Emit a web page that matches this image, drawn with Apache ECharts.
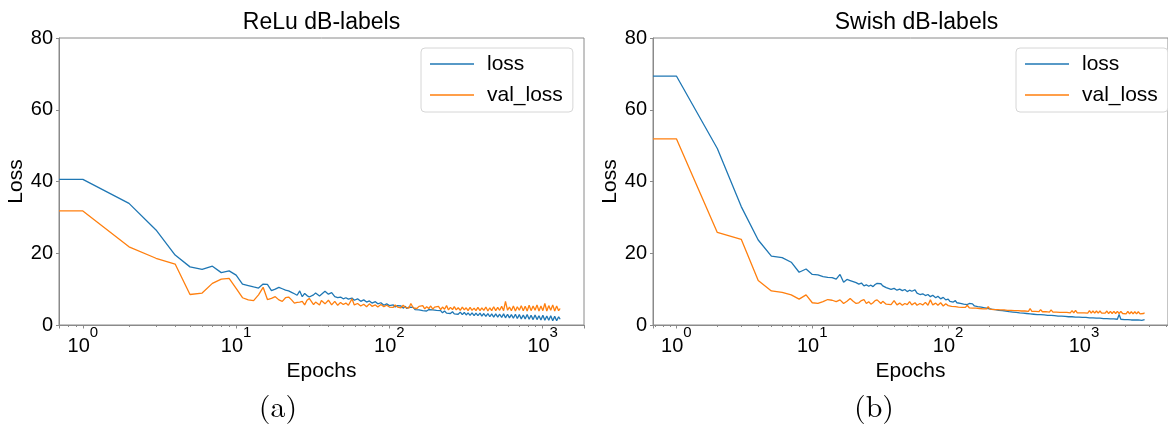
<!DOCTYPE html>
<html><head><meta charset="utf-8">
<script src="https://cdn.jsdelivr.net/npm/echarts@6/dist/echarts.min.js"></script>
<style>html,body{margin:0;padding:0;background:#fff;}#c{width:1168px;height:427px;}</style>
</head><body><div id="c"></div>
<script>
// ---------------- data ----------------
const epochsRelu = [
  1,2,3,4,5,6,7,8,9,10, 11,12,13,14,15,16,17,18,19,20, 21,22,23,24,25,26,27,28,29,30,
  32,33,35,36,38, 40,42,44,46,48, 50,52,54,57,59, 62,65,68,71,74, 77,81,84,88,92, 96,100,
  103,106,109,113,116,119,123,127,130,134,
  138,143,147,151,156,160,165,170,175,181,
  186,192,197,203,209,216,222,229,236,243,
  250,258,265,273,281,290,299,308,317,326,
  336,346,357,367,378,390,401,413,426,439,
  452,465,479,494,509,524,540,556,572,590,
  607,625,644,664,683,704,725,747,769,792,
  816,840,866,892,918,946,974,1003,1033,1064,
  1096,1129,1163,1198,1234,1271,1300
];
const lossRelu = [
  40.6,33.9,26.5,19.5,16.2,15.5,16.4,14.6,15.1,13.9,
  11.4,11.0,10.6,10.3,11.4,11.3,9.6,10.0,10.5,10.1,
  9.7,9.5,9.1,8.7,8.3,9.5,7.9,8.8,8.2,7.8,
  8.4,8.9,8.1,8.3,9.4, 8.6,9.0,7.9,7.6,7.8, 7.3,7.6,7.2,7.5,6.9, 7.3,6.6,7.0,6.4,6.7, 6.1,6.5,5.9,6.2,5.5, 5.9,5.4,
  5.1,5.6,5.0,5.4,4.9,5.3,4.7,5.2,4.6,5.0,
  4.5,4.9,4.3,4.7,4.2,4.6,4.0,4.5,3.9,4.3,
  3.8,4.2,3.7,4.1,3.6,4.0,3.4,3.9,3.3,3.8,
  3.2,3.7,3.1,3.6,3.0,3.6,2.9,3.5,2.8,3.4,
  2.7,3.4,2.6,3.3,2.6,3.3,2.5,3.2,2.4,3.2,
  2.3,3.1,2.2,3.1,2.2,3.0,2.1,3.1,2.0,3.0,
  2.0,2.9,1.9,3.0,1.8,2.9,1.7,2.8,1.7,2.9,
  1.6,2.7,1.5,2.8,1.5,2.6,1.4,2.7,1.3,2.5,
  1.3,2.6,1.2,2.4,1.2,2.3,1.6
];
const valLossRelu = [
  31.8,21.8,18.6,17.0,8.5,8.9,11.6,12.8,13.0,10.2,
  7.6,7.0,6.8,8.4,10.5,7.1,7.4,7.9,7.0,6.6,
  7.6,7.8,7.0,6.1,6.3,6.4,6.6,5.6,6.9,7.4,
  5.7,6.4,5.6,6.8,5.9, 6.9,5.6,6.6,5.5,6.3, 5.7,6.1,5.5,7.3,5.6, 6.0,5.3,5.8,5.1,5.9, 5.2,5.6,5.0,5.7,5.1, 5.5,5.0,
  5.4,4.9,5.6,5.0,5.3,4.8,5.5,4.9,5.2,4.7,
  6.0,4.8,5.3,4.6,5.2,4.7,5.4,4.5,5.1,4.6,
  5.3,4.4,5.0,4.5,5.2,4.3,5.0,4.4,5.4,4.2,
  4.9,4.3,5.1,4.2,4.8,4.1,5.0,4.2,4.8,4.0,
  4.9,4.1,4.7,4.0,4.9,4.0,4.8,4.1,5.0,3.9,
  4.8,4.0,5.1,4.0,4.9,4.1,5.2,4.0,6.6,4.1,
  5.0,4.0,5.3,3.9,5.1,4.1,5.4,4.0,5.2,3.9,
  5.5,4.0,5.3,4.1,5.6,3.9,5.3,4.0,6.0,3.9,
  5.4,4.1,5.6,3.9,5.3,4.0,4.6
];
const epochsSwish = [
  1,2,3,4,5,6,7,8,9,10, 11,12,13,14,15,16,17,18,19,20, 21,22,23,24,25,26,27,28,29,30,
  32,33,35,36,38, 40,42,44,46,48, 50,52,54,57,59, 62,65,68,71,74, 77,81,84,88,92, 96,100,
  103,106,109,113,116,119,123,127,130,134,
  138,143,147,151,156,160,165,170,175,181,
  186,192,197,203,209,216,222,229,236,243,
  250,258,265,273,281,290,299,308,317,326,
  336,346,357,367,378,390,401,413,426,439,
  452,465,479,494,509,524,540,556,572,590,
  607,625,644,664,683,704,725,747,769,792,
  816,840,866,892,918,946,974,1003,1033,1064,
  1096,1129,1163,1198,1234,1271,
  1309,1348,1389,1430,1473,1517,1563,1610,1658,1708,
  1759,1812,1866,1922,1980,2039,2100,2163,2228,2295,
  2364,2435,2508,2583,2661,2740,2790
];
const lossSwish = [
  69.4,49.2,33.0,23.7,19.2,18.8,17.5,14.7,15.6,14.1,
  14.0,13.5,13.3,13.2,12.8,14.1,11.9,12.7,12.4,12.1,
  11.8,11.4,11.7,10.9,11.2,10.8,11.1,10.7,11.3,11.6,
  11.5,10.9,10.4,10.8,9.9, 10.2,9.7,10.0,9.6,9.9, 9.3,9.7,9.4,9.8,8.9, 8.5,8.7,8.2,8.5,7.9, 8.3,7.6,8.0,7.3,7.7, 7.0,7.2,
  6.6,7.1,6.4,6.8,6.2,6.6,6.0,6.4,5.8,6.2,
  5.7,6.0,5.5,5.9,5.3,5.7,5.1,5.5,5.0,5.3,
  4.8,5.1,4.6,4.9,4.4,4.8,4.3,4.6,4.1,4.5,
  4.0,4.4,3.9,4.2,3.7,4.1,3.6,3.9,3.5,3.8,
  3.4,3.7,3.3,3.6,3.2,3.5,3.1,3.4,3.0,3.3,
  2.9,3.2,2.9,3.2,2.8,3.1,2.7,3.0,2.7,3.0,
  2.6,2.9,2.5,2.8,2.5,2.8,2.4,2.7,2.3,2.7,
  2.3,2.6,2.2,2.6,2.2,2.5,2.1,2.5,2.1,2.4,
  2.0,2.4,2.0,2.3,1.9,2.3,
  1.9,2.2,1.8,2.2,1.8,2.1,1.7,2.1,1.7,2.0,
  1.6,2.9,1.6,2.0,1.5,1.9,1.5,1.9,1.4,1.9,
  1.4,1.8,1.4,1.8,1.3,1.8,1.5
];
const valLossSwish = [
  51.9,25.8,23.9,12.4,9.5,9.1,8.4,7.2,8.4,6.2,
  6.0,6.5,7.1,6.9,6.5,7.0,6.0,6.6,7.4,6.6,
  6.0,6.2,6.8,7.1,6.0,6.5,5.8,6.2,6.8,7.0,
  6.0,6.6,5.8,6.3,5.7, 6.8,5.6,6.1,5.5,6.0, 5.7,6.5,5.6,6.2,5.5, 6.0,5.6,6.3,5.5,7.0, 5.6,6.1,5.5,6.2,5.3, 5.9,5.4,
  5.8,5.2,5.7,5.1,5.6,5.0,5.5,4.9,5.4,4.9,
  5.5,4.8,5.3,4.7,5.2,4.7,5.2,4.6,5.1,4.5,
  5.0,4.5,5.1,4.4,4.9,4.3,4.8,4.3,4.8,4.2,
  4.7,4.2,4.7,4.1,4.6,4.1,4.6,4.0,4.5,4.0,
  4.5,3.9,4.4,3.9,4.4,3.8,4.6,3.8,4.3,3.8,
  4.3,3.7,4.3,3.7,4.2,3.7,4.2,3.6,4.2,3.6,
  4.1,3.6,4.1,3.5,4.0,3.5,4.0,3.5,4.0,3.4,
  4.0,3.4,4.1,3.4,3.9,3.4,3.9,3.4,3.9,3.3,
  4.0,3.3,3.9,3.3,3.9,3.3,
  3.9,3.3,3.8,3.3,3.9,3.2,3.8,3.2,3.8,3.2,
  3.8,3.2,3.8,3.2,3.7,3.1,3.8,3.1,3.7,3.1,
  3.7,3.1,3.7,3.1,3.6,3.2,3.4
];
const panelTitles = ['ReLu dB-labels', 'Swish dB-labels'];
const panelCaptions = ['(a)', '(b)'];
const seriesNames = ['loss', 'val_loss'];
const xAxisName = 'Epochs';
const yAxisName = 'Loss';
const yMin = 0, yMax = 80, yStep = 20;

// ---------------- styling / layout ----------------
const SANS = '"Liberation Sans", Arial, sans-serif';
const SERIF = '"Latin Modern Roman", "Liberation Serif", "DejaVu Serif", serif';
const COLORS = ['#1f77b4', '#ff7f0e'];
const FRAME = '#8a8a8a';
const grids = [
  {left: 59, top: 38, width: 525, height: 287},
  {left: 653, top: 38, width: 527, height: 287}
];
const captionX = [278, 874];
const legendLeft = [421, 1016];
const panels = [
  {epochs: epochsRelu, values: [lossRelu, valLossRelu]},
  {epochs: epochsSwish, values: [lossSwish, valLossSwish]}
];

// matplotlib-like 5% margins in log space; epoch 0 is clipped to the left edge
function logRange(ep) {
  const lo = Math.log10(ep[0]), hi = Math.log10(ep[ep.length - 1]);
  const m = 0.05 * (hi - lo);
  return [Math.pow(10, lo - m), Math.pow(10, hi + m)];
}

const option = {
  animation: false,
  backgroundColor: '#fff',
  title: [], grid: [], xAxis: [], yAxis: [], legend: [], series: []
};

panels.forEach((p, k) => {
  const g = grids[k];
  const [xmin, xmax] = logRange(p.epochs);
  option.grid.push({left: g.left, top: g.top, width: g.width, height: g.height,
    show: true, borderColor: FRAME, borderWidth: 1, backgroundColor: 'transparent', containLabel: false});
  option.title.push({text: panelTitles[k], left: g.left + g.width / 2, top: 11, textAlign: 'center', padding: 0,
    textStyle: {fontFamily: SANS, fontSize: 23, fontWeight: 'normal', color: '#000'}});
  option.title.push({text: panelCaptions[k], left: captionX[k], top: 393, textAlign: 'center', padding: 0,
    textStyle: {fontFamily: SERIF, fontSize: 30, fontWeight: 'normal', color: '#000'}});
  option.xAxis.push({
    type: 'log', logBase: 10, gridIndex: k, min: xmin, max: xmax,
    name: xAxisName, nameLocation: 'middle', nameGap: 32,
    nameTextStyle: {fontFamily: SANS, fontSize: 21, color: '#000'},
    axisLine: {show: true, lineStyle: {color: FRAME, width: 1}},
    axisTick: {show: true, length: 3.5, lineStyle: {color: FRAME}},
    minorTick: {show: true, splitNumber: 9, length: 2, lineStyle: {color: FRAME}},
    splitLine: {show: false},
    axisLabel: {
      margin: 0, showMinLabel: false, showMaxLabel: false,
      formatter: v => {
        const e = Math.log10(v);
        if (Math.abs(e - Math.round(e)) > 1e-6) return '';
        return '{b|10}{s|' + Math.round(e) + '}';
      },
      rich: {
        b: {fontFamily: SANS, fontSize: 20, color: '#000', padding: [11, 0, 0, 0]},
        s: {fontFamily: SANS, fontSize: 15, color: '#000', verticalAlign: 'top'}
      }
    }
  });
  option.yAxis.push({
    type: 'value', gridIndex: k, min: yMin, max: yMax, interval: yStep,
    name: yAxisName, nameLocation: 'middle', nameGap: 27, nameRotate: 90,
    nameTextStyle: {fontFamily: SANS, fontSize: 21, color: '#000'},
    axisLine: {show: true, lineStyle: {color: FRAME, width: 1}},
    axisTick: {show: true, length: 3, lineStyle: {color: FRAME}},
    splitLine: {show: false},
    axisLabel: {fontFamily: SANS, fontSize: 20, color: '#000', margin: 6}
  });
  option.legend.push({
    data: seriesNames, orient: 'vertical', left: legendLeft[k], top: 48,
    padding: [4, 10, 5, 9], itemGap: 7, itemWidth: 44, itemHeight: 1.6, icon: 'rect',
    backgroundColor: '#fff', borderColor: '#d6d6d6', borderWidth: 1, borderRadius: 4,
    textStyle: {fontFamily: SANS, fontSize: 21, color: '#000', padding: [0, 0, 0, 8], lineHeight: 24}
  });
  p.values.forEach((vals, j) => {
    const pts = [[xmin, vals[0]]];
    for (let i = 0; i < Math.min(p.epochs.length, vals.length); i++) pts.push([p.epochs[i], vals[i]]);
    option.series.push({
      name: seriesNames[j], type: 'line', xAxisIndex: k, yAxisIndex: k,
      data: pts, symbol: 'none', showSymbol: false, z: 2 + j,
      lineStyle: {color: COLORS[j], width: 1.3}, itemStyle: {color: COLORS[j]},
      emphasis: {disabled: true}
    });
  });
});

const chart = echarts.init(document.getElementById('c'), null, {renderer: 'canvas'});
chart.setOption(option);
</script>
</body></html>
